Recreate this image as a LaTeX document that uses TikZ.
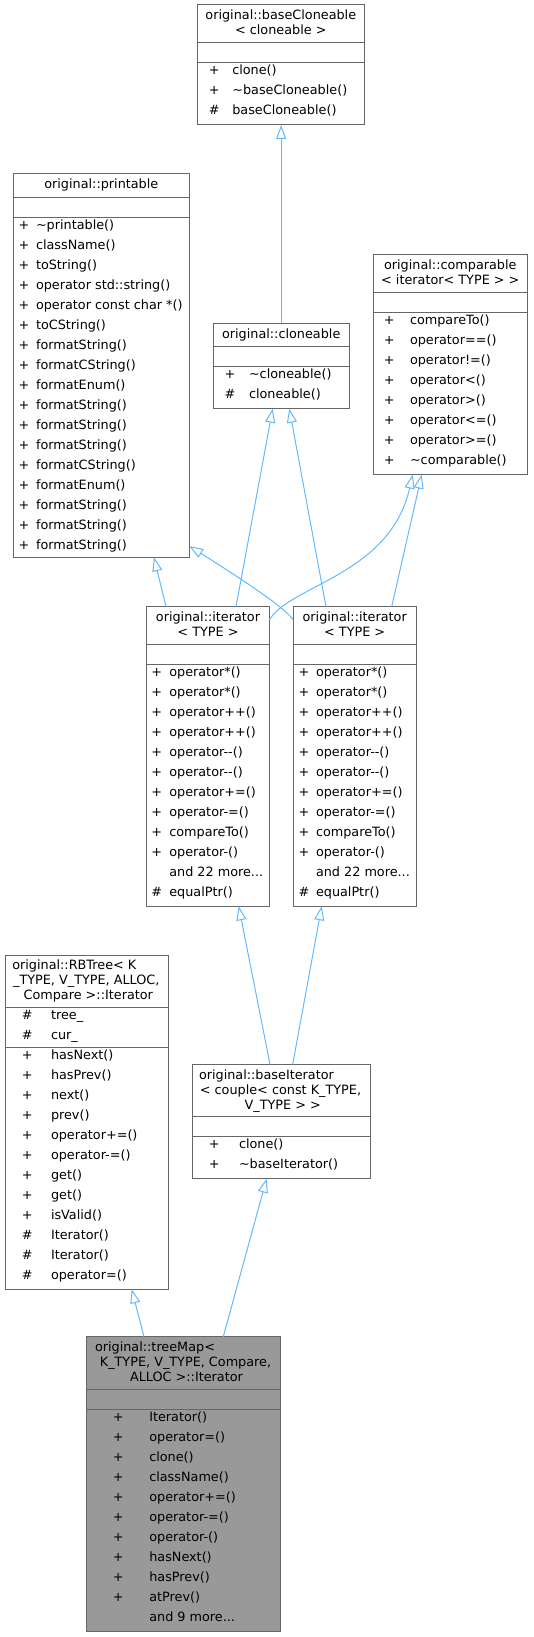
\documentclass[tikz,border=0pt]{standalone}
\usepackage{fontspec}
\setmainfont{DejaVu Sans}
\usetikzlibrary{arrows.meta,calc}
\definecolor{edgeblue}{RGB}{99,184,255}
\definecolor{boxgray}{RGB}{102,102,102}
\definecolor{curfill}{RGB}{153,153,153}
\tikzset{
  cls/.style={draw=boxgray, line width=1pt, fill=white, inner sep=0pt, outer sep=0pt, anchor=north west},
  sepline/.style={draw=boxgray, line width=1pt},
  txt/.style={inner sep=0pt, outer sep=0pt, anchor=mid},
  txtl/.style={inner sep=0pt, outer sep=0pt, anchor=mid west},
  inh/.style={draw=edgeblue, line width=1pt, -{Triangle[length=14pt, width=10pt, fill=white]}},
}
\newcommand\tdots{...}
\newcommand\umlrows[5]{%
  \foreach \s/\m [count=\i from 0] in {#5}{%
    \node[txt] (#1s\i) at (#2,{#4+9.5+20*\i}) {\s};
    \node[txtl] (#1m\i) at (#3,{#4+9.5+20*\i}) {\m};
  }}
\newcommand\umlbox[6]{% name, left, top, right, bottom, fill
  \node[cls, fill=#6, minimum width={#4-#2}, minimum height={#5-#3}] (#1) at (#2,#3) {};}
\newcommand\umlsep[2]{% name, y offset from top
  \draw[sepline] ([yshift=-#2pt]#1.north west) -- ([yshift=-#2pt]#1.north east);}
\begin{document}
\begin{tikzpicture}[x=1pt, y=-1pt, font=\fontsize{12.8}{15}\selectfont]
\useasboundingbox (0,0) rectangle (533,1637);

% ---- boxes ----
\umlbox{bc}{197.3}{5}{364.3}{125}{white}
\umlsep{bc}{37.7}\umlsep{bc}{57.7}
\node[txt] (bct0) at (280.8,17) {original::baseCloneable};
\node[txt] (bct1) at (280.8,32) {< cloneable >};
\umlrows{bc}{214.3}{232.3}{62.7}{+/clone(), +/\textasciitilde baseCloneable(), \#/baseCloneable()}

\umlbox{pr}{13.3}{173.3}{189.3}{557.3}{white}
\umlsep{pr}{24}\umlsep{pr}{44}
\node[txt] (prt0) at (101.3,185.5) {original::printable};
\umlrows{pr}{24}{36}{217.3}{+/\textasciitilde printable(), +/className(), +/toString(), +/operator std::string(), +/operator const char *(), +/toCString(), +/formatString(), +/formatCString(), +/formatEnum(), +/formatString(), +/formatString(), +/formatString(), +/formatCString(), +/formatEnum(), +/formatString(), +/formatString(), +/formatString()}

\umlbox{co}{373.3}{255}{527.3}{474.7}{white}
\umlsep{co}{37.7}\umlsep{co}{57.7}
\node[txt] (cot0) at (450.3,267) {original::comparable};
\node[txt] (cot1) at (450.3,282) {< iterator< TYPE > >};
\umlrows{co}{389.3}{410}{312.7}{+/compareTo(), +/operator==(), +/operator!=(), +/operator<(), +/operator>(), +/operator<=(), +/operator>=(), +/\textasciitilde comparable()}

\umlbox{cl}{213.3}{323.3}{349}{408.7}{white}
\umlsep{cl}{23.4}\umlsep{cl}{43.4}
\node[txt] (clt0) at (281.2,335.5) {original::cloneable};
\umlrows{cl}{230}{249}{366.7}{+/\textasciitilde cloneable(), \#/cloneable()}

\umlbox{ia}{146.7}{606.7}{269.3}{906.3}{white}
\umlsep{ia}{37.6}\umlsep{ia}{57.6}
\node[txt] (iat0) at (208,618.7) {original::iterator};
\node[txt] (iat1) at (208,633.7) {< TYPE >};
\umlrows{ia}{156.7}{169.3}{664.3}{+/operator*(), +/operator*(), +/operator++(), +/operator++(), +/operator-{}-(), +/operator-{}-(), +/operator+=(), +/operator-=(), +/compareTo(), +/operator-(), /and 22 more\tdots, \#/equalPtr()}

\umlbox{ib}{293.3}{606.7}{416}{906.3}{white}
\umlsep{ib}{37.6}\umlsep{ib}{57.6}
\node[txt] (ibt0) at (354.7,618.7) {original::iterator};
\node[txt] (ibt1) at (354.7,633.7) {< TYPE >};
\umlrows{ib}{304}{316}{664.3}{+/operator*(), +/operator*(), +/operator++(), +/operator++(), +/operator-{}-(), +/operator-{}-(), +/operator+=(), +/operator-=(), +/compareTo(), +/operator-(), /and 22 more\tdots, \#/equalPtr()}

\umlbox{rb}{5}{955}{168}{1289.3}{white}
\umlsep{rb}{52.3}\umlsep{rb}{92.3}
\node[txtl] (rbt0) at (12.3,967) {original::RBTree< K};
\node[txt] (rbt1) at (86.3,982) {\_TYPE, V\_TYPE, ALLOC,};
\node[txt] (rbt2) at (88.3,997) {Compare >::Iterator};
\umlrows{rba}{27.3}{51}{1007.3}{\#/tree\_, \#/cur\_}
\umlrows{rb}{27.3}{51}{1047.3}{+/hasNext(), +/hasPrev(), +/next(), +/prev(), +/operator+=(), +/operator-=(), +/get(), +/get(), +/isValid(), \#/Iterator(), \#/Iterator(), \#/operator=()}

\umlbox{bi}{192}{1064.3}{370.3}{1178.7}{white}
\umlsep{bi}{52.4}\umlsep{bi}{72.4}
\node[txtl] (bit0) at (199,1076.3) {original::baseIterator};
\node[txt] (bit1) at (280.5,1091.3) {< couple< const K\_TYPE,};
\node[txt] (bit2) at (282.7,1106.3) {V\_TYPE > >};
\umlrows{bi}{214.3}{239}{1136.7}{+/clone(), +/\textasciitilde baseIterator()}

\umlbox{tm}{86.7}{1336.7}{280.7}{1631.3}{curfill}
\umlsep{tm}{52.6}\umlsep{tm}{72.6}
\node[txtl] (tmt0) at (95,1349) {original::treeMap<};
\node[txt] (tmt1) at (185.5,1364) {K\_TYPE, V\_TYPE, Compare,};
\node[txt] (tmt2) at (186.5,1379) {ALLOC >::Iterator};
\umlrows{tm}{118.3}{149.3}{1409.3}{+/Iterator(), +/operator=(), +/clone(), +/className(), +/operator+=(), +/operator-=(), +/operator-(), +/hasNext(), +/hasPrev(), +/atPrev(), /and 9 more\tdots}

% ---- inheritance edges ----
\draw[inh] (cl.north) -- (cl.north |- bc.south);
\draw[inh] ([xshift=19.3pt]ia.north west) -- ([xshift=140.7pt]pr.south west);
\draw[inh] ([yshift=-13.3pt]ib.north west) .. controls (285,607) and (235,575) .. ([yshift=11.3pt]pr.south east);
\draw[inh] ([yshift=-13.3pt]ia.north east) .. controls (290,585) and (390,575) .. ([xshift=39.4pt]co.south west);
\draw[inh] ([xshift=98.4pt]ib.north west) -- ([xshift=48.4pt]co.south west);
\draw[inh] ([xshift=89.3pt]ia.north west) -- ([xshift=59.4pt]cl.south west);
\draw[inh] ([xshift=32.7pt]ib.north west) -- ([xshift=76pt]cl.south west);
\draw[inh] ([xshift=78pt]bi.north west) -- ([xshift=92pt]ia.south west);
\draw[inh] ([xshift=100.7pt]bi.north west) -- ([xshift=28.4pt]ib.south west);
\draw[inh] ([xshift=57.3pt]tm.north west) -- ([xshift=126.7pt]rb.south west);
\draw[inh] ([xshift=136.6pt]tm.north west) -- ([xshift=74.6pt]bi.south west);
\end{tikzpicture}
\end{document}
